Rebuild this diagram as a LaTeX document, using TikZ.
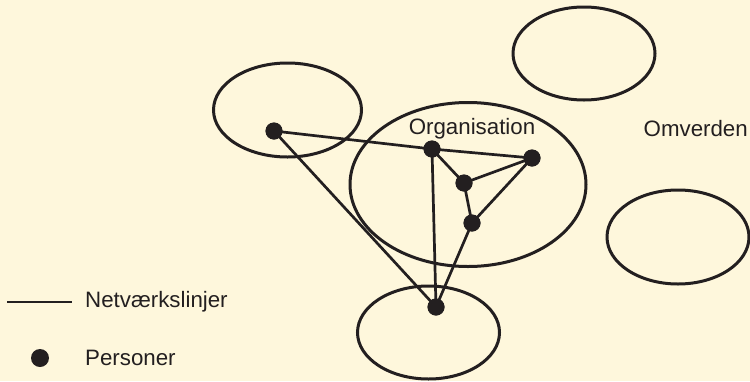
\documentclass[tikz,border=0pt]{standalone}
\usepackage{fontspec}
\setmainfont{Liberation Sans}
\definecolor{paper}{RGB}{254,247,220}
\definecolor{ink}{RGB}{35,31,32}
\begin{document}
\begin{tikzpicture}[x=1pt,y=-1pt,
  ring/.style={draw=ink,line width=3pt},
  person/.style={circle,fill=ink,inner sep=0pt,minimum size=17pt},
  tie/.style={draw=ink,line width=2.7pt},
  caption/.style={text=ink,font=\fontsize{22.3}{26}\selectfont,inner sep=0pt}]
\fill[paper] (0,0) rectangle (750,381);
\useasboundingbox (0,0) rectangle (750,381);
% groups
\draw[ring] (287.5,110) ellipse [x radius=74,y radius=47];
\draw[ring] (468,184.5) ellipse [x radius=118,y radius=82];
\draw[ring] (584,53.5) ellipse [x radius=71,y radius=46.5];
\draw[ring] (678,237) ellipse [x radius=71,y radius=47];
\draw[ring] (428.5,332.5) ellipse [x radius=71,y radius=46.5];
% people
\node[person] (a) at (274,131) {};
\node[person] (b) at (432,149) {};
\node[person] (c) at (532,158) {};
\node[person] (d) at (464,183) {};
\node[person] (e) at (472,223) {};
\node[person] (f) at (436,307) {};
% network ties
\draw[tie] (a.center) -- (b.center);
\draw[tie] (a.center) -- (f.center);
\draw[tie] (b.center) -- (c.center);
\draw[tie] (b.center) -- (d.center);
\draw[tie] (b.center) -- (f.center);
\draw[tie] (d.center) -- (c.center);
\draw[tie] (d.center) -- (e.center);
\draw[tie] (e.center) -- (c.center);
\draw[tie] (e.center) -- (f.center);
\foreach \p in {a,b,c,d,e,f} \fill[ink] (\p) circle [radius=8.5pt];
% labels
\node[caption] (org) at (472,129) {Organisation};
\node[caption,anchor=east] (omv) at (748,129) {Omverden};
% legend
\coordinate (l1) at (7,302);
\coordinate (l2) at (72,302);
\draw[tie] (l1) -- (l2);
\node[caption,anchor=west] (lines) at (85,302) {Netværkslinjer};
\node[person,minimum size=18pt] (dot) at (40,358) {};
\node[caption,anchor=west] (persons) at (85,358) {Personer};
\end{tikzpicture}
\end{document}
